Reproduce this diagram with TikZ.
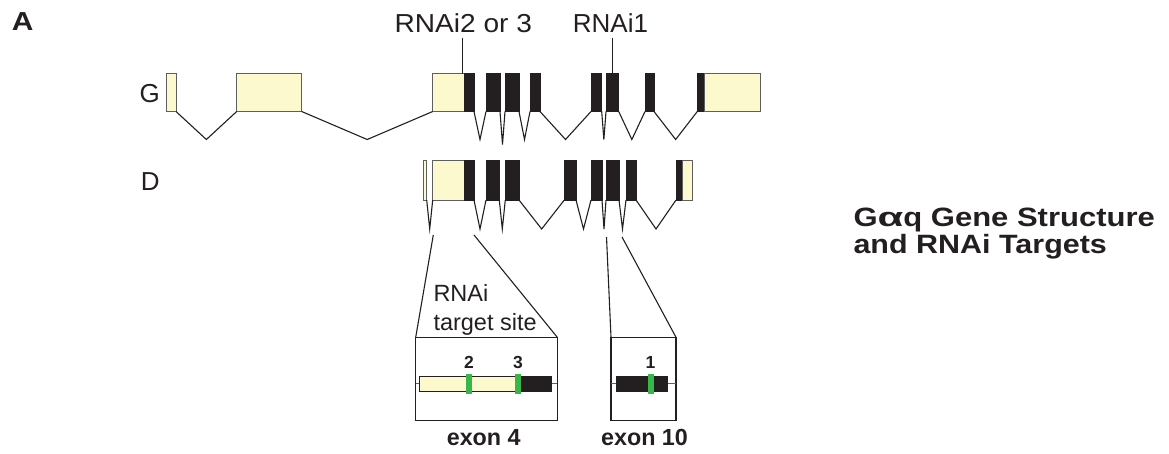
\documentclass[tikz,border=0pt]{standalone}
\usepackage{fontspec}
\setmainfont{Liberation Sans}
\usetikzlibrary{calc}
\definecolor{cream}{RGB}{252,249,206}
\definecolor{exgray}{RGB}{95,95,95}
\definecolor{exblack}{RGB}{35,31,32}
\definecolor{markgreen}{RGB}{57,181,74}
\newcommand{\intronpath}[3]{\draw[intronline] (#1.south east) -- ($(#1.south east)!.5!(#2.south west)+(0,#3)$) -- (#2.south west);}
\tikzset{
  exbase/.style={rectangle, inner sep=0pt, outer sep=0pt, anchor=north west, line width=0.8pt},
  gex/.style={exbase, minimum height=38pt},
  dex/.style={exbase, minimum height=40pt},
  creamfill/.style={fill=cream, draw=exgray},
  blackfill/.style={fill=exblack, draw=exblack},
  intronline/.style={line width=1.1pt, exblack},
  zoombox/.style={rectangle, draw=exblack, line width=1.1pt, inner sep=0pt, outer sep=0pt, anchor=north west, minimum height=83.4pt},
  expline/.style={line width=1.1pt, exblack},
  barline/.style={line width=0.8pt, exgray},
  genebar/.style={rectangle, inner sep=0pt, outer sep=0pt, anchor=north west, minimum height=15.7pt, line width=0.6pt},
  rnaimark/.style={rectangle, inner sep=0pt, outer sep=0pt, anchor=north west, minimum width=6pt, minimum height=19.7pt, fill=markgreen},
  regtxt/.style={inner sep=0pt, text=exblack, font=\fontsize{26}{30}\selectfont},
  smalltxt/.style={inner sep=0pt, text=exblack, font=\fontsize{23.5}{28.5}\selectfont},
  boldtxt/.style={inner sep=0pt, text=exblack, font=\bfseries\fontsize{23.3}{26}\selectfont},
  numtxt/.style={inner sep=0pt, text=exblack, font=\bfseries\fontsize{17.5}{20}\selectfont},
  titletxt/.style={inner sep=0pt, text=exblack, font=\bfseries\fontsize{26.5}{26.7}\selectfont},
}
\begin{document}
\begin{tikzpicture}[x=1pt,y=-1pt]
\useasboundingbox (0,0) rectangle (1169,453);

% panel letter
\node[inner sep=0pt, text=exblack, font=\bfseries\fontsize{26}{30}\selectfont, anchor=base west] (lblA) at (11.7,30) {\scalebox{1.15}[1]{A}};

% row labels
\node[regtxt, anchor=base] (lblG) at (149.7,102.7) {G};
\node[regtxt, anchor=base] (lblD) at (150.3,190.7) {D};

% RNAi labels
\node[regtxt, anchor=base] (rnai23) at (463.3,32.3) {\scalebox{1.08}[1]{RNAi2 or 3}};
\node[regtxt, anchor=base] (rnai1) at (610.5,32.3) {RNAi1};

% G row exons
\node[gex, creamfill, minimum width=9.3pt] (g1) at (166.7,73.5) {};
\node[gex, creamfill, minimum width=65pt] (g2) at (236.7,73.5) {};
\node[gex, creamfill, minimum width=31.3pt] (g3a) at (432.7,73.5) {};
\node[gex, blackfill, minimum width=10pt] (g3b) at (464,73.5) {};
\node[gex, blackfill, minimum width=14pt] (g4) at (486,73.5) {};
\node[gex, blackfill, minimum width=14pt] (g5) at (505,73.5) {};
\node[gex, blackfill, minimum width=10pt] (g6) at (530,73.5) {};
\node[gex, blackfill, minimum width=10.7pt] (g7) at (591,73.5) {};
\node[gex, blackfill, minimum width=12.7pt] (g8) at (606,73.5) {};
\node[gex, blackfill, minimum width=9pt] (g9) at (645,73.5) {};
\node[gex, blackfill, minimum width=6.7pt] (g10a) at (697.3,73.5) {};
\node[gex, creamfill, minimum width=56.7pt] (g10b) at (704,73.5) {};

\intronpath{g1}{g2}{28}
\intronpath{g2}{g3a}{28}
\intronpath{g3b}{g4}{28}
\intronpath{g4}{g5}{33}
\intronpath{g5}{g6}{28}
\intronpath{g6}{g7}{28}
\intronpath{g7}{g8}{28}
\intronpath{g8}{g9}{28}
\intronpath{g9}{g10a}{28}

% RNAi pointer lines
\coordinate (p23) at (462.7,37.7);
\coordinate (p1) at (612.3,37.7);
\draw[intronline] (p23) -- (p23 |- g3b.north);
\draw[intronline] (p1) -- (p1 |- g8.north);

% D row exons
\node[dex, creamfill, minimum width=3.4pt] (d1) at (423.3,160) {};
\node[dex, creamfill, minimum width=31.6pt] (d2a) at (432.7,160) {};
\node[dex, blackfill, minimum width=9.7pt] (d2b) at (464.3,160) {};
\node[dex, blackfill, minimum width=13.3pt] (d3) at (486,160) {};
\node[dex, blackfill, minimum width=13.7pt] (d4) at (505.3,160) {};
\node[dex, blackfill, minimum width=11.7pt] (d5) at (564.3,160) {};
\node[dex, blackfill, minimum width=11pt] (d6) at (591,160) {};
\node[dex, blackfill, minimum width=13pt] (d7) at (606,160) {};
\node[dex, blackfill, minimum width=10pt] (d8) at (626,160) {};
\node[dex, blackfill, minimum width=6.7pt] (d9a) at (676,160) {};
\node[dex, creamfill, minimum width=10pt] (d9b) at (682.7,160) {};

\intronpath{d1}{d2a}{29}
\intronpath{d2b}{d3}{29}
\intronpath{d3}{d4}{29}
\intronpath{d4}{d5}{29}
\intronpath{d5}{d6}{29}
\intronpath{d6}{d7}{29}
\intronpath{d7}{d8}{29}
\intronpath{d8}{d9a}{29}

% title
\node[titletxt, anchor=base west] (title1) at (853.3,226.7) {\scalebox{1.17}[1]{G\scalebox{1.35}[1]{α}q Gene Structure}};
\node[titletxt, anchor=base west] (title2) at (853.3,253.3) {\scalebox{1.15}[1]{and RNAi Targets}};

% zoom box exon 4
\node[zoombox, minimum width=141.6pt] (box4) at (415.7,337.3) {};
\coordinate (e4l) at (433.3,235);
\coordinate (e4r) at (474,235);
\draw[expline] (e4l) -- (box4.north west);
\draw[expline] (e4r) -- (box4.north east);
\node[smalltxt, anchor=base west] (tgt1) at (433.3,301.7) {RNAi};
\node[smalltxt, anchor=base west] (tgt2) at (433.3,330) {target site};
\draw[barline] (415.7,383.5) -- (557.3,383.5);
\node[genebar, fill=cream, draw=exblack, minimum width=102.7pt] (b4c) at (419,376) {};
\node[genebar, fill=exblack, draw=exblack, minimum width=30pt] (b4k) at (521.7,376) {};
\node[rnaimark] (m2) at (466,374.3) {};
\node[rnaimark] (m3) at (515,374.3) {};
\node[numtxt, anchor=base] (n2) at (469,368.3) {2};
\node[numtxt, anchor=base] (n3) at (518,368.3) {3};
\node[boldtxt, anchor=base] (ex4) at (483.7,445) {exon 4};

% zoom box exon 10
\node[zoombox, minimum width=65pt] (box10) at (611,337.3) {};
\coordinate (e10l) at (606.5,237);
\coordinate (e10r) at (622,237);
\draw[expline] (e10l) -- (box10.north west);
\draw[expline] (e10r) -- (box10.north east);
\draw[barline] (611,383.5) -- (676,383.5);
\node[genebar, fill=exblack, draw=exblack, minimum width=51.7pt] (b10k) at (616,376) {};
\node[rnaimark] (m1) at (647.5,374.3) {};
\node[numtxt, anchor=base] (n1) at (650.5,368.3) {1};
\node[boldtxt, anchor=base] (ex10) at (644.5,445) {exon 10};
\end{tikzpicture}
\end{document}
